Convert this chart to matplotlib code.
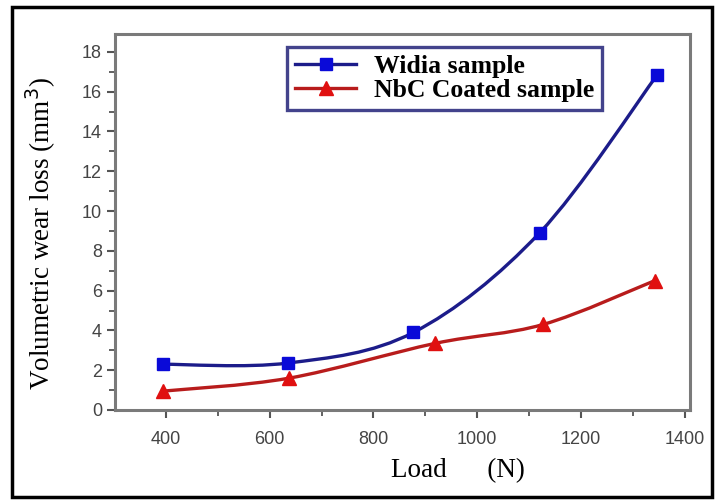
import numpy as np
import matplotlib.pyplot as plt
from matplotlib.path import Path
from matplotlib.patches import PathPatch, Rectangle

## data
load_widia = [394, 635, 877, 1120, 1347]
wear_widia = [2.3, 2.36, 3.9, 8.9, 16.85]
load_nbc = [395, 637, 919, 1127, 1342]
wear_nbc = [0.95, 1.6, 3.35, 4.3, 6.5]

x_ticks = [400, 600, 800, 1000, 1200, 1400]
y_ticks = [0, 2, 4, 6, 8, 10, 12, 14, 16, 18]

def smooth_path(xs, ys):
	# Catmull-Rom through the points, drawn as cubic bezier segments
	p = np.column_stack([xs, ys]).astype(float)
	ext = np.vstack([p[0], p, p[-1]])
	verts = [p[0]]
	codes = [Path.MOVETO]
	for i in range(1, len(ext) - 2):
		c1 = ext[i] + (ext[i + 1] - ext[i - 1]) / 6
		c2 = ext[i + 1] - (ext[i + 2] - ext[i]) / 6
		verts += [c1, c2, ext[i + 1]]
		codes += [Path.CURVE4] * 3
	return Path(verts, codes)

fig = plt.figure(figsize=(7.15, 5.0), dpi=100)
ax = fig.add_axes([0.161, 0.18, 0.804, 0.752])

blue_line = "#1c1c8a"
red_line = "#b81c1c"

ax.add_patch(PathPatch(smooth_path(load_widia, wear_widia), fc="none", ec=blue_line, lw=2.4, zorder=3))
ax.add_patch(PathPatch(smooth_path(load_nbc, wear_nbc), fc="none", ec=red_line, lw=2.4, zorder=3))

ax.plot(load_widia, wear_widia, ls="none", marker="s", ms=8.5, color="#0a0ad8", zorder=4)
ax.plot(load_nbc, wear_nbc, ls="none", marker="^", ms=10, color="#e01010", zorder=4)

# legend handles (line + marker)
h1, = ax.plot([], [], color=blue_line, lw=2.4, marker="s", ms=8.5, mfc="#0a0ad8", mec="#0a0ad8")
h2, = ax.plot([], [], color=red_line, lw=2.4, marker="^", ms=10, mfc="#e01010", mec="#e01010")
leg = ax.legend([h1, h2], ["Widia sample", "NbC Coated sample"],
	loc="upper left", bbox_to_anchor=(0.299, 0.965), frameon=True, fancybox=False,
	prop={"family": "Liberation Serif", "size": 18.5, "weight": "bold"}, handlelength=2.4,
	handletextpad=0.7, labelspacing=0.05, borderpad=0.3, borderaxespad=0)
leg.get_frame().set_edgecolor("#141470")
leg.get_frame().set_linewidth(2.4)

ax.set_xlim(302, 1410)
ax.set_ylim(0, 18.9)
ax.set_xticks(x_ticks)
ax.set_yticks(y_ticks)
ax.set_xticks([500, 700, 900, 1100, 1300], minor=True)
ax.set_yticks([1, 3, 5, 7, 9, 11, 13, 15, 17], minor=True)
ax.tick_params(which="major", direction="out", length=6, width=1.5, color="#555555",
	labelsize=13, labelcolor="#444444")
ax.tick_params(axis="x", which="major", pad=9)
ax.tick_params(which="minor", direction="out", length=4, width=1.3, color="#555555")
for lab in ax.get_xticklabels() + ax.get_yticklabels():
	lab.set_family("Liberation Sans")

for s in ax.spines.values():
	s.set_color("#7a7a7a")
	s.set_linewidth(2.2)

ax.set_xlabel("Load      (N)", family="Liberation Serif", fontsize=19.5)
ax.xaxis.set_label_coords(0.597, -0.128)
ax.set_ylabel("Volumetric wear loss (mm$^3$)", family="Liberation Serif", fontsize=19.5)
ax.yaxis.set_label_coords(-0.1, 0.468)

# outer frame of the picture
fig.patches.append(Rectangle((12 / 715, 3 / 500), 700 / 715, 490 / 500, transform=fig.transFigure,
	fill=False, ec="black", lw=2.5))

fig.savefig("out.png", dpi=100)
